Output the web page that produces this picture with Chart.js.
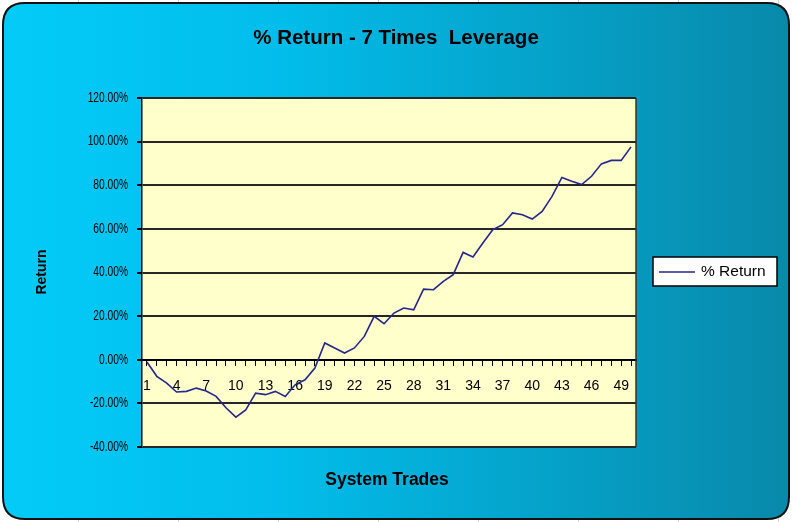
<!DOCTYPE html>
<html>
<head>
<meta charset="utf-8">
<script src="https://cdn.jsdelivr.net/npm/chart.js@4/dist/chart.umd.min.js"></script>
<style>
html,body{margin:0;padding:0;background:#fff;}
canvas{display:block;}
</style>
</head>
<body>
<canvas id="c" width="792" height="522"></canvas>
<script>
const chartTitle = '% Return - 7 Times  Leverage';
const xTitle = 'System Trades';
const yTitle = 'Return';
const seriesName = '% Return';
const categories = ['1','2','3','4','5','6','7','8','9','10','11','12','13','14','15','16','17','18','19','20','21','22','23','24','25','26','27','28','29','30','31','32','33','34','35','36','37','38','39','40','41','42','43','44','45','46','47','48','49','50'];
const returnPct = [-1, -7.6, -10.7, -14.8, -14.5, -13, -14.3, -16.8, -22, -26.3, -23, -15.3, -16, -14.5, -16.8, -11.5, -9.2, -3.8, 7.7, 5.4, 3.1, 5.4, 10.7, 19.9, 16.5, 21.4, 23.7, 22.9, 32.4, 32.1, 35.9, 39, 49.2, 47.1, 53.5, 59.6, 61.9, 67.3, 66.5, 64.5, 68, 74.9, 83.6, 81.8, 80.3, 84.1, 89.8, 91.4, 91.4, 97.6];
const yMin = -40, yMax = 120, yStep = 20;
const labelEvery = 3;

const SANS = "'Liberation Sans', Arial, sans-serif";

function roundRect(ctx, x, y, w, h, r) {
  ctx.beginPath();
  ctx.moveTo(x + r, y);
  ctx.lineTo(x + w - r, y);
  ctx.quadraticCurveTo(x + w, y, x + w, y + r);
  ctx.lineTo(x + w, y + h - r);
  ctx.quadraticCurveTo(x + w, y + h, x + w - r, y + h);
  ctx.lineTo(x + r, y + h);
  ctx.quadraticCurveTo(x, y + h, x, y + h - r);
  ctx.lineTo(x, y + r);
  ctx.quadraticCurveTo(x, y, x + r, y);
  ctx.closePath();
}

function fmtPct(v) { return v.toFixed(2) + '%'; }

const decor = {
  id: 'decor',
  beforeDraw(chart) {
    const ctx = chart.ctx, W = chart.width, H = chart.height;
    ctx.save();
    ctx.fillStyle = '#ffffff';
    ctx.fillRect(0, 0, W, H);
    ctx.strokeStyle = '#d4d4d4';
    ctx.lineWidth = 1;
    for (let x = 78.5; x < W; x += 100) {
      ctx.beginPath(); ctx.moveTo(x, 0); ctx.lineTo(x, H); ctx.stroke();
    }
    const g = ctx.createLinearGradient(3, 0, 789, 0);
    g.addColorStop(0, '#03CBF8');
    g.addColorStop(0.35, '#02BDEB');
    g.addColorStop(1, '#0889AA');
    roundRect(ctx, 3, 3, 786, 516, 22);
    ctx.fillStyle = g;
    ctx.fill();
    ctx.lineWidth = 2;
    ctx.strokeStyle = '#111';
    ctx.stroke();
    const a = chart.chartArea;
    ctx.fillStyle = '#FFFFCC';
    ctx.fillRect(a.left, a.top, a.right - a.left, a.bottom - a.top);
    ctx.restore();
  },
  afterDraw(chart) {
    const ctx = chart.ctx, a = chart.chartArea;
    ctx.save();
    ctx.strokeStyle = '#333';
    ctx.lineWidth = 1.5;
    ctx.beginPath();
    ctx.moveTo(a.right, a.top); ctx.lineTo(a.right, a.bottom);
    ctx.stroke();
    const ys = chart.scales.y;
    ctx.fillStyle = '#000';
    ctx.textAlign = 'right';
    ctx.textBaseline = 'middle';
    ctx.font = '14px ' + SANS;
    ys.ticks.forEach(function (t) {
      const py = ys.getPixelForValue(t.value);
      ctx.save();
      ctx.translate(128, py);
      ctx.scale(0.73, 1);
      ctx.fillText(fmtPct(t.value), 0, 0);
      ctx.restore();
    });
    ctx.textAlign = 'center';
    ctx.font = 'bold 20.5px ' + SANS;
    ctx.fillText(chartTitle, 396, 38);
    ctx.font = 'bold 17.5px ' + SANS;
    ctx.fillText(xTitle, 387, 480);
    ctx.save();
    ctx.translate(42, 272);
    ctx.rotate(-Math.PI / 2);
    ctx.font = 'bold 14px ' + SANS;
    ctx.fillText(yTitle, 0, 0);
    ctx.restore();
    const ds = chart.data.datasets[0];
    ctx.fillStyle = '#fff';
    ctx.fillRect(653, 257, 124, 29);
    ctx.strokeStyle = '#000';
    ctx.lineWidth = 1.5;
    ctx.strokeRect(653, 257, 124, 29);
    ctx.strokeStyle = ds.borderColor;
    ctx.lineWidth = 1.5;
    ctx.beginPath(); ctx.moveTo(659, 272); ctx.lineTo(695, 272); ctx.stroke();
    ctx.fillStyle = '#000';
    ctx.textAlign = 'left';
    ctx.font = '15.5px ' + SANS;
    ctx.fillText(ds.label, 701, 272);
    ctx.restore();
  }
};

new Chart(document.getElementById('c'), {
  type: 'line',
  data: {
    labels: categories,
    datasets: [{
      label: seriesName,
      data: returnPct,
      borderColor: '#26268C',
      borderWidth: 1.6,
      pointRadius: 0,
      tension: 0,
      fill: false
    }]
  },
  options: {
    responsive: false,
    animation: false,
    events: [],
    layout: { padding: { left: 0, right: 156, top: 98, bottom: 75 } },
    plugins: { legend: { display: false }, title: { display: false }, tooltip: { enabled: false } },
    scales: {
      x: {
        type: 'category',
        position: { y: 0 },
        offset: true,
        grid: { drawOnChartArea: false, drawTicks: true, tickLength: 5, color: '#000', lineWidth: 1, offset: false },
        border: { display: true, color: '#000', width: 2 },
        ticks: {
          autoSkip: false, maxRotation: 0, minRotation: 0, padding: 13,
          color: '#000', font: { family: SANS, size: 14 },
          callback: function (v, i) { return i % labelEvery === 0 ? categories[i] : ''; }
        }
      },
      y: {
        min: yMin, max: yMax,
        afterFit: function (s) { s.width = 142; },
        grid: { color: '#262626', lineWidth: 2, tickLength: 5, tickColor: '#000', drawTicks: true },
        border: { display: true, color: '#000', width: 1.5 },
        ticks: {
          display: false,
          stepSize: yStep,
          callback: fmtPct
        }
      }
    }
  },
  plugins: [decor]
});
</script>
</body>
</html>
